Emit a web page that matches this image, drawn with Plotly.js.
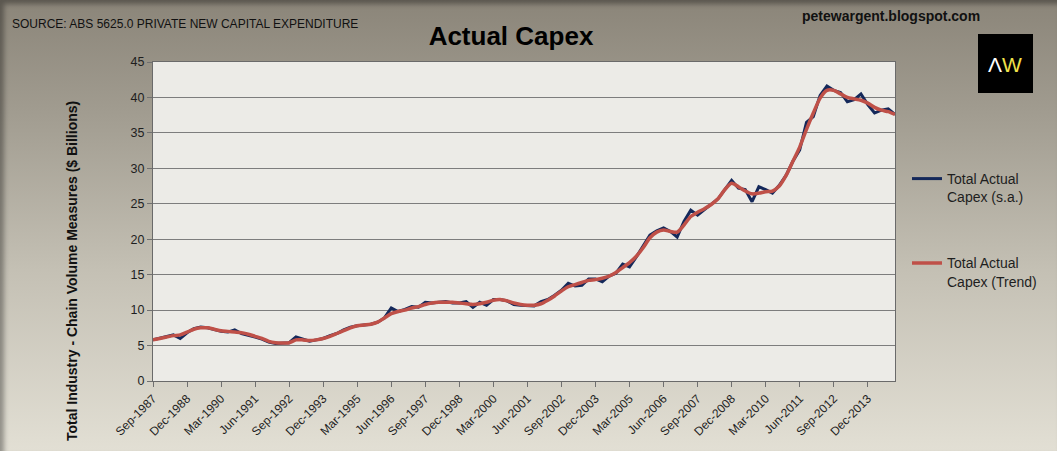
<!DOCTYPE html>
<html><head><meta charset="utf-8">
<script src="https://cdn.plot.ly/plotly-3.0.1.min.js"></script>
<style>
html,body{margin:0;padding:0;}
body{width:1057px;height:451px;overflow:hidden;
background:linear-gradient(to bottom,#8b8579 0%,#a19c90 25%,#c4c0b4 60%,#e2dfd4 100%);
box-shadow:inset 4px 4px 5px rgba(0,0,0,0.35);}
#chart{width:1057px;height:451px;}
</style></head><body><div id="chart"></div>
<script>
// Quarterly categories Sep-1987 .. Dec-2014
const quarters = [
 "Sep-1987","Dec-1987",
 "Mar-1988","Jun-1988","Sep-1988","Dec-1988",
 "Mar-1989","Jun-1989","Sep-1989","Dec-1989",
 "Mar-1990","Jun-1990","Sep-1990","Dec-1990",
 "Mar-1991","Jun-1991","Sep-1991","Dec-1991",
 "Mar-1992","Jun-1992","Sep-1992","Dec-1992",
 "Mar-1993","Jun-1993","Sep-1993","Dec-1993",
 "Mar-1994","Jun-1994","Sep-1994","Dec-1994",
 "Mar-1995","Jun-1995","Sep-1995","Dec-1995",
 "Mar-1996","Jun-1996","Sep-1996","Dec-1996",
 "Mar-1997","Jun-1997","Sep-1997","Dec-1997",
 "Mar-1998","Jun-1998","Sep-1998","Dec-1998",
 "Mar-1999","Jun-1999","Sep-1999","Dec-1999",
 "Mar-2000","Jun-2000","Sep-2000","Dec-2000",
 "Mar-2001","Jun-2001","Sep-2001","Dec-2001",
 "Mar-2002","Jun-2002","Sep-2002","Dec-2002",
 "Mar-2003","Jun-2003","Sep-2003","Dec-2003",
 "Mar-2004","Jun-2004","Sep-2004","Dec-2004",
 "Mar-2005","Jun-2005","Sep-2005","Dec-2005",
 "Mar-2006","Jun-2006","Sep-2006","Dec-2006",
 "Mar-2007","Jun-2007","Sep-2007","Dec-2007",
 "Mar-2008","Jun-2008","Sep-2008","Dec-2008",
 "Mar-2009","Jun-2009","Sep-2009","Dec-2009",
 "Mar-2010","Jun-2010","Sep-2010","Dec-2010",
 "Mar-2011","Jun-2011","Sep-2011","Dec-2011",
 "Mar-2012","Jun-2012","Sep-2012","Dec-2012",
 "Mar-2013","Jun-2013","Sep-2013","Dec-2013",
 "Mar-2014","Jun-2014","Sep-2014","Dec-2014"
];

// Total Actual Capex (s.a.), $ billions
const capexSA = [
 5.8,6.0,
 6.2,6.5,6.0,6.8,
 7.4,7.6,7.5,7.2,
 7.0,6.9,7.2,6.7,
 6.5,6.2,5.9,5.5,
 5.3,5.4,5.4,6.2,
 5.9,5.6,5.8,6.0,
 6.4,6.7,7.2,7.6,
 7.8,7.9,8.0,8.3,
 8.9,10.3,9.8,10.1,
 10.5,10.4,11.1,11.0,
 11.1,11.2,11.0,11.0,
 11.2,10.4,11.1,10.7,
 11.5,11.5,11.3,10.8,
 10.7,10.7,10.6,11.2,
 11.5,12.1,12.8,13.8,
 13.4,13.5,14.4,14.4,
 14.0,14.8,15.2,16.5,
 16.1,17.5,19.0,20.6,
 21.2,21.6,21.1,20.3,
 22.5,24.1,23.4,24.2,
 24.9,25.7,27.0,28.3,
 27.2,27.0,25.3,27.4,
 27.0,26.5,27.6,29.0,
 31.0,32.6,36.5,37.3,
 40.3,41.6,41.0,40.7,
 39.4,39.7,40.5,39.0,
 37.8,38.2,38.4,37.6
];

// Total Actual Capex (Trend), $ billions
const capexTrend = [
 5.8,6.0,
 6.2,6.4,6.5,6.9,
 7.3,7.5,7.5,7.3,
 7.1,7.0,6.9,6.8,
 6.6,6.3,6.0,5.6,
 5.4,5.35,5.4,5.8,
 5.8,5.7,5.8,6.0,
 6.3,6.7,7.1,7.5,
 7.8,7.9,8.0,8.3,
 8.9,9.5,9.8,10.0,
 10.3,10.5,10.8,11.0,
 11.1,11.1,11.1,11.0,
 10.9,10.8,10.9,11.1,
 11.4,11.5,11.3,11.0,
 10.8,10.7,10.7,10.9,
 11.4,12.0,12.7,13.3,
 13.6,13.9,14.2,14.3,
 14.5,14.8,15.3,16.0,
 16.7,17.6,18.8,20.2,
 21.0,21.3,21.1,21.0,
 22.0,23.2,23.8,24.3,
 24.9,25.7,27.0,27.9,
 27.4,26.8,26.4,26.5,
 26.7,26.8,27.5,29.0,
 31.0,33.0,35.5,37.8,
 39.9,41.0,41.0,40.5,
 40.0,39.8,39.6,39.2,
 38.6,38.2,38.0,37.6
];

const tickLabels = ["Sep-1987","Dec-1988","Mar-1990","Jun-1991","Sep-1992","Dec-1993",
 "Mar-1995","Jun-1996","Sep-1997","Dec-1998","Mar-2000","Jun-2001","Sep-2002",
 "Dec-2003","Mar-2005","Jun-2006","Sep-2007","Dec-2008","Mar-2010","Jun-2011",
 "Sep-2012","Dec-2013"];
const yTicks = [0,5,10,15,20,25,30,35,40,45];

// plot-area pixel frame helpers (for decorations only)
const L=153,R=895,T=62,B=381;
const px2x = p => (p-L)/(R-L);
const px2y = p => (B-p)/(B-T);

const FONT = "Liberation Sans, Arial, sans-serif";

const traces = [
 {x: quarters, y: capexSA, type:'scatter', mode:'lines', name:'Total Actual<br>Capex (s.a.)',
  line:{color:'#14285a', width:3}, legendgroup:'a'},
 {x: quarters, y: capexTrend, type:'scatter', mode:'lines', name:'Total Actual<br>Capex (Trend)',
  line:{color:'#bf5048', width:3.5, shape:'spline', smoothing:0.7}, legendgroup:'b'}
];

const layout = {
 width:1057, height:451,
 paper_bgcolor:'rgba(0,0,0,0)',
 plot_bgcolor:'#ecebe7',
 margin:{l:L, r:1057-R, t:T, b:451-B, pad:0},
 title:{text:'<b>Actual Capex</b>', x:511/1057, xanchor:'center', y:1-36/451, yanchor:'middle',
  font:{family:FONT, size:26, color:'#000'}},
 showlegend:true,
 legend:{x:px2x(907), xanchor:'left', y:px2y(163), yanchor:'top', bgcolor:'rgba(0,0,0,0)',
  font:{family:FONT, size:14, color:'#1e1e1e'}, valign:'top', tracegroupgap:45, itemwidth:30},
 xaxis:{type:'category', range:[0, quarters.length-1], tickmode:'array', tickvals:tickLabels, ticktext:tickLabels,
  tickangle:-45, ticks:'outside', ticklen:5, tickcolor:'#707070',
  tickfont:{family:FONT, size:12, color:'#1e1e1e'},
  showline:true, linecolor:'#6a6a6a', linewidth:1, mirror:true, showgrid:false, zeroline:false},
 yaxis:{range:[0,45], tickmode:'array', tickvals:yTicks, ticks:'outside', ticklen:5, tickcolor:'#707070',
  tickfont:{family:FONT, size:12.5, color:'#1e1e1e'},
  showgrid:true, gridcolor:'#7d7d7d', gridwidth:1, zeroline:false,
  showline:true, linecolor:'#6a6a6a', linewidth:1, mirror:true},
 shapes:[
  {type:'rect', xref:'paper', yref:'paper', x0:px2x(978), x1:px2x(1033), y0:px2y(93), y1:px2y(34),
   fillcolor:'#000', line:{width:0}}
 ],
 annotations:[
  {text:'SOURCE: ABS 5625.0 PRIVATE NEW CAPITAL EXPENDITURE', xref:'paper', yref:'paper',
   x:px2x(10), y:px2y(24), xanchor:'left', yanchor:'middle', showarrow:false,
   font:{family:FONT, size:12, color:'#111'}},
  {text:'<b>petewargent.blogspot.com</b>', xref:'paper', yref:'paper',
   x:px2x(891), y:px2y(16), xanchor:'center', yanchor:'middle', showarrow:false,
   font:{family:FONT, size:14, color:'#111'}},
  {text:'<span style="color:#ffffff">Λ</span><span style="color:#f0e24a">W</span>', xref:'paper', yref:'paper',
   x:px2x(1005), y:px2y(64), xanchor:'center', yanchor:'middle', showarrow:false,
   font:{family:FONT, size:21, color:'#fff'}},
  {text:'<b>Total Industry - Chain Volume Measures ($ Billions)</b>', xref:'paper', yref:'paper',
   x:px2x(72), y:px2y(271), xanchor:'center', yanchor:'middle', textangle:-90, showarrow:false,
   font:{family:FONT, size:14, color:'#111'}}
 ]
};

Plotly.newPlot('chart', traces, layout, {displayModeBar:false, staticPlot:true});
</script></body></html>
